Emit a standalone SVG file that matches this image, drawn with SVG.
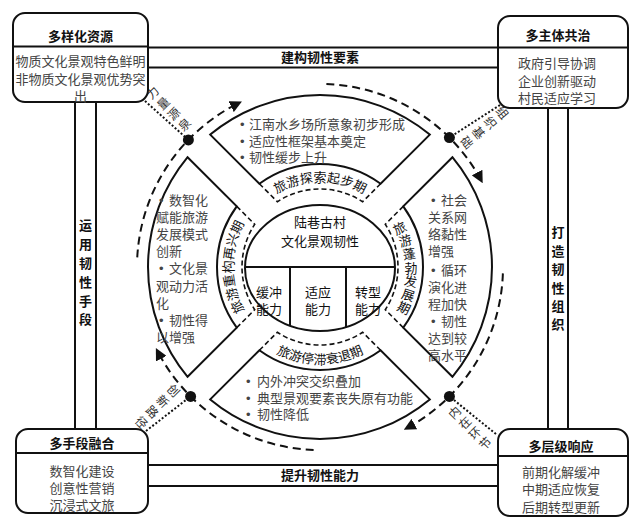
<svg xmlns="http://www.w3.org/2000/svg" width="644" height="523" viewBox="0 0 644 523">
<defs>
<style>
.box{fill:#fff;stroke:#111;stroke-width:2}
.ln{stroke:#111;stroke-width:2;fill:none}
.t{font-family:"Liberation Sans","Noto Sans CJK SC","Noto Sans CJK TC",sans-serif;font-size:13px}
.ti{font-weight:bold;fill:#111;text-anchor:middle}
.bd{fill:#444;text-anchor:middle}
.tx{fill:#444}
.sec{fill:#fff;stroke:#111;stroke-width:2}
.band{fill:none;stroke:#111;stroke-width:1.6;stroke-dasharray:5 3}
.ring{fill:none;stroke:#111;stroke-width:2;stroke-dasharray:8 5}
.dl{stroke:#111;stroke-width:2;stroke-dasharray:2 2;fill:none}
.lab{fill:#111;font-weight:bold;text-anchor:middle}
.rl{fill:#333;font-size:12px;text-anchor:middle;dominant-baseline:central}
.bt{fill:#111}
.ct{fill:#111;text-anchor:middle}
</style>
<marker id="ah" viewBox="0 0 10 10" refX="8" refY="5" markerWidth="12" markerHeight="12" markerUnits="userSpaceOnUse" orient="auto">
<path d="M0,0 L10,5 L0,10 z" fill="#111"/>
</marker>
<path id="pTop" d="M254.89 212.36 A85 85 0 0 1 385.11 212.36"/>
<path id="pBot" d="M245.70 329.35 A97 97 0 0 0 394.30 329.35"/>
<path id="pLeft" d="M264.08 333.64 A87 87 0 0 1 264.08 200.36"/>
</defs>
<rect width="644" height="523" fill="#fff"/>

<g id="connectors">
<line class="ln" x1="148" y1="47.5" x2="498" y2="47.5"/>
<line class="ln" x1="148" y1="67.5" x2="498" y2="67.5"/>
<text class="t lab" x="320" y="62">建构韧性要素</text>
<line class="ln" x1="148" y1="465" x2="498" y2="465"/>
<line class="ln" x1="148" y1="486" x2="498" y2="486"/>
<text class="t lab" x="320" y="480">提升韧性能力</text>
<line class="ln" x1="75" y1="102" x2="75" y2="429"/>
<line class="ln" x1="96" y1="102" x2="96" y2="429"/>
<text class="t lab" x="85.5 85.5 85.5 85.5 85.5 85.5" y="230 249 268 287 306 324">运用韧性手段</text>
<line class="ln" x1="548" y1="108" x2="548" y2="429"/>
<line class="ln" x1="568" y1="108" x2="568" y2="429"/>
<text class="t lab" x="558 558 558 558 558 558" y="237 256 274 293 311 329">打造韧性组织</text>

<path class="ring" d="M137.25 257.42 A183 183 0 0 1 239.78 102.52" marker-end="url(#ah)"/>
<path class="ring" d="M326.39 84.11 A183 183 0 0 1 481.58 181.08" marker-end="url(#ah)"/>
<path class="ring" d="M502.89 273.39 A183 183 0 0 1 405.92 428.57" marker-end="url(#ah)"/>
<path class="ring" d="M313.61 449.89 A183 183 0 0 1 156.95 350.08" marker-end="url(#ah)"/>

<line class="dl" x1="145" y1="101" x2="188.4" y2="139.9"/>
<line class="dl" x1="500" y1="105" x2="449.4" y2="137.6"/>
<line class="dl" x1="146" y1="431" x2="190.6" y2="396.4"/>
<line class="dl" x1="496" y1="434" x2="449.4" y2="396.4"/>
<circle cx="188.4" cy="139.9" r="5.5" fill="#111"/>
<circle cx="449.4" cy="137.6" r="5.5" fill="#111"/>
<circle cx="449.4" cy="396.4" r="5.5" fill="#111"/>
<circle cx="190.6" cy="396.4" r="5.5" fill="#111"/>

<text class="t rl" transform="translate(153 93) rotate(-45)"><tspan x="0" y="0">力</tspan><tspan x="0" y="15">量</tspan><tspan x="0" y="30">源</tspan><tspan x="0" y="45">泉</tspan></text>
<text class="t rl" transform="translate(502 113) rotate(50)"><tspan x="0" y="0">组</tspan><tspan x="0" y="15.5">织</tspan><tspan x="0" y="31">基</tspan><tspan x="0" y="46.5">础</tspan></text>
<text class="t rl" transform="translate(173 391) rotate(45)"><tspan x="0" y="0">创</tspan><tspan x="0" y="15">新</tspan><tspan x="0" y="30">路</tspan><tspan x="0" y="45">径</tspan></text>
<text class="t rl" transform="translate(455 413) rotate(-45)"><tspan x="0" y="0">内</tspan><tspan x="0" y="14.5">在</tspan><tspan x="0" y="29">环</tspan><tspan x="0" y="43.5">节</tspan></text>
</g>

<g id="box-resources">
<rect class="box" x="13" y="13" width="135" height="89" rx="12"/>
<line class="ln" x1="13" y1="46.5" x2="148" y2="46.5"/>
<text class="t ti" x="80.5" y="41">多样化资源</text>
<text class="t bd" x="80.5" y="66">物质文化景观特色鲜明</text>
<text class="t bd" x="80.5" y="84">非物质文化景观优势突</text>
<text class="t bd" x="80.5" y="101">出</text>
</g>

<g id="box-governance">
<rect class="box" x="498" y="16" width="130" height="92" rx="12"/>
<line class="ln" x1="498" y1="47.5" x2="628" y2="47.5"/>
<text class="t ti" x="558" y="40">多主体共治</text>
<text class="t bd" x="557" y="68">政府引导协调</text>
<text class="t bd" x="557" y="86">企业创新驱动</text>
<text class="t bd" x="557" y="103">村民适应学习</text>
</g>

<g id="box-means">
<rect class="box" x="16" y="429" width="132" height="84" rx="12"/>
<line class="ln" x1="16" y1="453" x2="148" y2="453"/>
<text class="t ti" x="82" y="448">多手段融合</text>
<text class="t bd" x="82" y="476">数智化建设</text>
<text class="t bd" x="82" y="493">创意性营销</text>
<text class="t bd" x="82" y="510">沉浸式文旅</text>
</g>

<g id="box-response">
<rect class="box" x="498" y="429" width="130" height="87" rx="12"/>
<line class="ln" x1="498" y1="456" x2="628" y2="456"/>
<text class="t ti" x="561" y="451">多层级响应</text>
<text class="t bd" x="561" y="477">前期化解缓冲</text>
<text class="t bd" x="561" y="494">中期适应恢复</text>
<text class="t bd" x="561" y="512">后期转型更新</text>
</g>

<g id="sector-exploration">
<path class="sec" d="M210.22 134.60 A172 172 0 0 1 429.78 134.60 L380.64 183.74 A103 103 0 0 0 259.36 183.74 Z"/>
<path class="band" d="M259.36 183.74 L277.33 201.71 A78 78 0 0 1 362.67 201.71 L380.64 183.74"/>
<text class="t tx" x="240" y="129">•<tspan x="249">江南水乡场所意象初步形成</tspan></text>
<text class="t tx" x="240" y="146">•<tspan x="249">适应性框架基本奠定</tspan></text>
<text class="t tx" x="240" y="162">•<tspan x="249">韧性缓步上升</tspan></text>
<text class="t bt"><textPath href="#pTop" startOffset="50%" text-anchor="middle">旅游探索起步期</textPath></text>
</g>

<g id="sector-development">
<path class="sec" d="M452.40 157.22 A172 172 0 0 1 452.40 376.78 L403.26 327.64 A103 103 0 0 0 403.26 206.36 Z"/>
<path class="band" d="M403.26 206.36 L385.29 224.33 A78 78 0 0 1 385.29 309.67 L403.26 327.64"/>
<text class="t tx" x="431" y="205">•<tspan x="441">社会</tspan></text>
<text class="t tx" x="428" y="222">关系网</text>
<text class="t tx" x="428" y="239">络黏性</text>
<text class="t tx" x="428" y="256">增强</text>
<text class="t tx" x="431" y="275">•<tspan x="441">循环</tspan></text>
<text class="t tx" x="428" y="292">演化进</text>
<text class="t tx" x="428" y="309">程加快</text>
<text class="t tx" x="431" y="326">•<tspan x="441">韧性</tspan></text>
<text class="t tx" x="428" y="343">达到较</text>
<text class="t tx" x="428" y="360">高水平</text>
<text class="t bt" text-anchor="middle" dominant-baseline="central" x="402.4 407.1 410.1 411 410.1 407.1 402.4" y="230.9 242.7 255.2 268 280.8 293.3 305.1" rotate="-26.1 -17.4 -8.7 0 8.7 17.4 26.1">旅游蓬勃发展期</text>
</g>

<g id="sector-decline">
<path class="sec" d="M429.78 399.40 A172 172 0 0 1 210.22 399.40 L259.36 350.26 A103 103 0 0 0 380.64 350.26 Z"/>
<path class="band" d="M380.64 350.26 L362.67 332.29 A78 78 0 0 1 277.33 332.29 L259.36 350.26"/>
<text class="t tx" x="246" y="386">•<tspan x="257">内外冲突交织叠加</tspan></text>
<text class="t tx" x="246" y="403">•<tspan x="257">典型景观要素丧失原有功能</tspan></text>
<text class="t tx" x="246" y="419">•<tspan x="257">韧性降低</tspan></text>
<text class="t bt"><textPath href="#pBot" startOffset="50%" text-anchor="middle">旅游停滞衰退期</textPath></text>
</g>

<g id="sector-revival">
<path class="sec" d="M187.60 376.78 A172 172 0 0 1 187.60 157.22 L236.74 206.36 A103 103 0 0 0 236.74 327.64 Z"/>
<path class="band" d="M236.74 327.64 L254.71 309.67 A78 78 0 0 1 254.71 224.33 L236.74 206.36"/>
<text class="t tx" x="159" y="205">•<tspan x="169">数智化</tspan></text>
<text class="t tx" x="156" y="222">赋能旅游</text>
<text class="t tx" x="156" y="239">发展模式</text>
<text class="t tx" x="156" y="256">创新</text>
<text class="t tx" x="159" y="273">•<tspan x="169">文化景</tspan></text>
<text class="t tx" x="156" y="291">观动力活</text>
<text class="t tx" x="156" y="308">化</text>
<text class="t tx" x="159" y="325">•<tspan x="169">韧性得</tspan></text>
<text class="t tx" x="156" y="342">以增强</text>
<text class="t bt"><textPath href="#pLeft" startOffset="50%" text-anchor="middle">旅游重构再兴期</textPath></text>
</g>

<g id="core">
<ellipse cx="320" cy="268" rx="75" ry="63" fill="#fff" stroke="#111" stroke-width="2"/>
<line class="ln" x1="245" y1="267" x2="395" y2="267"/>
<line class="ln" x1="290" y1="267" x2="290" y2="325.5"/>
<line class="ln" x1="346" y1="267" x2="346" y2="327"/>
<text class="t ct" x="320" y="227">陆巷古村</text>
<text class="t ct" x="320" y="246">文化景观韧性</text>
<text class="t ct" x="269" y="297">缓冲</text>
<text class="t ct" x="269" y="314">能力</text>
<text class="t ct" x="318" y="297">适应</text>
<text class="t ct" x="318" y="314">能力</text>
<text class="t ct" x="368" y="297">转型</text>
<text class="t ct" x="368" y="314">能力</text>
</g>
</svg>
